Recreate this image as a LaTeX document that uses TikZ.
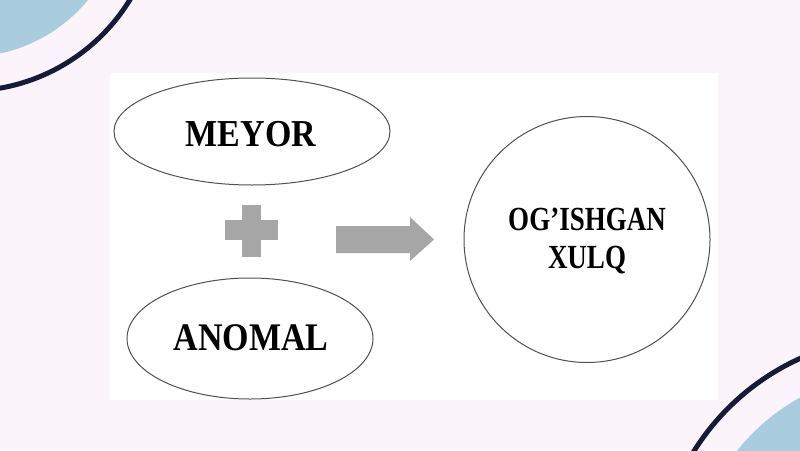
\documentclass[tikz,border=0pt]{standalone}
\usepackage{fontspec}
\usepackage{graphicx}
\setmainfont{Liberation Serif}
\usetikzlibrary{shapes.geometric}
\definecolor{bgpink}{HTML}{FBF5FB}
\definecolor{decoblue}{HTML}{A9CDDE}
\definecolor{deconavy}{HTML}{161B38}
\definecolor{shapegrey}{HTML}{A6A6A6}
\definecolor{outline}{HTML}{505050}
\tikzset{
  oval/.style={ellipse, draw=outline, line width=1pt, fill=white, inner sep=0pt},
  ring/.style={circle, draw=outline, line width=1pt, fill=white, inner sep=0pt},
  bigtext/.style={font=\bfseries\fontsize{34}{34}\selectfont, text=black},
  circtext/.style={font=\bfseries\fontsize{27}{38}\selectfont, text=black, align=center},
  navyarc/.style={draw=deconavy, line width=5pt},
  greyshape/.style={fill=shapegrey, draw=none}
}
\begin{document}
\begin{tikzpicture}[x=1pt,y=-1pt]
\useasboundingbox (0,0) rectangle (800,450);
\fill[bgpink] (0,0) rectangle (800,450);
\begin{scope}
  \clip (0,0) rectangle (800,450);
  \fill[decoblue] (-33,-100) circle[radius=157];
  \draw[navyarc] (-33,-100) circle[radius=191];
  \fill[decoblue] (900,580) circle[radius=208];
  \draw[navyarc] (900,580) circle[radius=243];
\end{scope}
\fill[white] (110,73) rectangle (718,400);
\node[oval, minimum width=276pt, minimum height=107pt] (meyor) at (252,131.5) {};
\node[bigtext] (meyort) at (251,134) {\scalebox{1}[1.12]{MEYOR}};
\node[oval, minimum width=246pt, minimum height=121pt] (anomal) at (250,338.5) {};
\node[bigtext] (anomalt) at (251,338) {\scalebox{1}[1.15]{ANOMAL}};
\node[ring, minimum size=246pt] (result) at (587,239.5) {};
\node[circtext] (resultt) at (587,241) {\scalebox{1}[1.25]{OG’ISHGAN}\\\scalebox{1}[1.25]{XULQ}};
% plus sign
\fill[greyshape] (242,205) rectangle (261,257);
\fill[greyshape] (225,220) rectangle (278,240);
% arrow
\fill[greyshape] (336,226) -- (410,226) -- (410,217) -- (434,239.5) -- (410,261) -- (410,253) -- (336,253) -- cycle;
\end{tikzpicture}
\end{document}
